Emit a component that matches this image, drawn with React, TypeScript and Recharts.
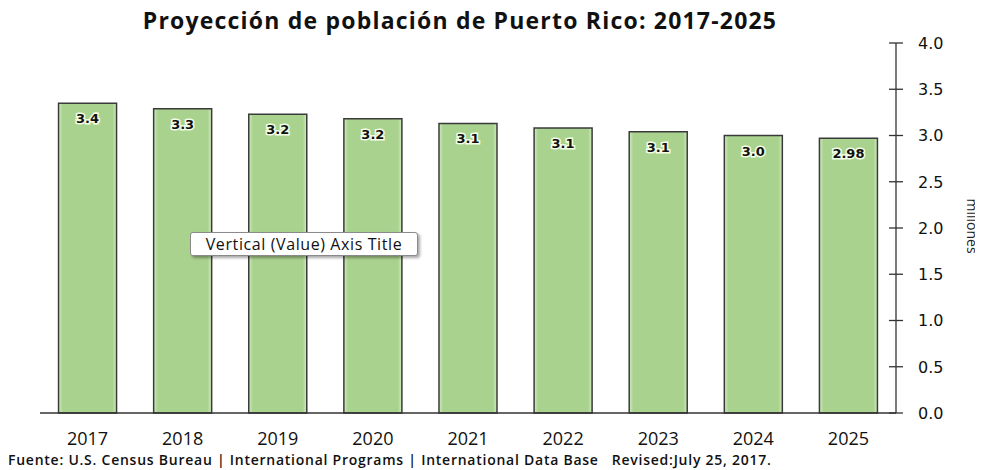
import React from "react";
import { BarChart, Bar, XAxis, YAxis, LabelList } from "recharts";

const years = ["2017", "2018", "2019", "2020", "2021", "2022", "2023", "2024", "2025"];
const population = [3.35, 3.29, 3.23, 3.18, 3.13, 3.08, 3.04, 3.0, 2.97];
const valueLabels = ["3.4", "3.3", "3.2", "3.2", "3.1", "3.1", "3.1", "3.0", "2.98"];
const yTicks = [0, 0.5, 1, 1.5, 2, 2.5, 3, 3.5, 4];

const data = years.map((year, i) => ({
  year,
  value: population[i],
  label: valueLabels[i]
}));

const XTick = (props: any) => {
  const { x, y, payload } = props;
  return (
    <text
      x={x}
      y={y + 32}
      textAnchor="middle"
      fontFamily="'Open Sans', sans-serif"
      fontSize={18}
      fill="#111"
    >
      {payload.value}
    </text>
  );
};

const YTick = (props: any) => {
  const { x, y, payload } = props;
  return (
    <g>
      <line x1={x - 7} x2={x + 7} y1={y} y2={y} stroke="#333" strokeWidth={1.3} />
      <text
        x={x + 22}
        y={y}
        dy="0.36em"
        textAnchor="start"
        fontFamily="'DejaVu Sans', sans-serif"
        fontSize={16}
        fill="#111"
      >
        {Number(payload.value).toFixed(1)}
      </text>
    </g>
  );
};

const BarValue = (props: any) => {
  const { x, y, width, value } = props;
  return (
    <text
      x={x + width / 2}
      y={y + 20}
      textAnchor="middle"
      fontFamily="'DejaVu Sans', sans-serif"
      fontWeight="bold"
      fontSize={13}
      fill="#111"
      stroke="#f2ffe6"
      strokeWidth={3}
      paintOrder="stroke"
    >
      {value}
    </text>
  );
};

export default function App() {
  return (
    <div
      style={{
        position: "relative",
        width: 983,
        height: 470,
        margin: "-8px 0 0 -8px",
        background: "#fff",
        overflow: "hidden"
      }}
    >
      <div
        style={{
          position: "absolute",
          top: 4,
          left: 0,
          width: 920,
          textAlign: "center",
          fontFamily: "'Open Sans', sans-serif",
          fontWeight: 700,
          fontSize: 23,
          letterSpacing: 1.2,
          color: "#111"
        }}
      >
        Proyección de población de Puerto Rico: 2017-2025
      </div>

      <BarChart
        width={983}
        height={470}
        data={data}
        margin={{ top: 43, right: 17, bottom: 27, left: 40 }}
        barCategoryGap="19.5%"
      >
        <defs>
          <linearGradient id="barFill" x1="0" y1="0" x2="1" y2="0">
            <stop offset="0%" stopColor="#d2ecc0" />
            <stop offset="7%" stopColor="#aad28f" />
            <stop offset="93%" stopColor="#aad28f" />
            <stop offset="100%" stopColor="#d2ecc0" />
          </linearGradient>
        </defs>
        <XAxis
          dataKey="year"
          axisLine={{ stroke: "#333", strokeWidth: 1.3 }}
          tickLine={false}
          tickSize={0}
          tickMargin={0}
          height={30}
          tick={<XTick />}
          interval={0}
        />
        <YAxis
          orientation="right"
          domain={[0, 4]}
          ticks={yTicks}
          width={70}
          axisLine={{ stroke: "#333", strokeWidth: 1.3 }}
          tickLine={false}
          tickSize={0}
          tickMargin={0}
          tick={<YTick />}
          interval={0}
          label={{
            content: (p: any) => {
              const vb = p.viewBox;
              const cx = vb.x + vb.width + 6;
              const cy = vb.y + vb.height / 2 - 2;
              return (
                <text
                  transform={`translate(${cx}, ${cy}) rotate(90)`}
                  textAnchor="middle"
                  dominantBaseline="central"
                  fontFamily="'Open Sans', sans-serif"
                  fontSize={14}
                  fill="#222"
                >
                  millones
                </text>
              );
            }
          }}
        />
        <Bar
          dataKey="value"
          fill="url(#barFill)"
          stroke="#3a3a3a"
          strokeWidth={1.5}
          isAnimationActive={false}
        >
          <LabelList dataKey="label" content={<BarValue />} />
        </Bar>
      </BarChart>

      <div
        style={{
          position: "absolute",
          left: 190,
          top: 232,
          width: 228,
          height: 24,
          boxSizing: "border-box",
          border: "1px solid #8a8a8a",
          borderRadius: 3,
          background: "#fff",
          boxShadow: "2px 2px 3px rgba(0,0,0,0.35)",
          fontFamily: "'Open Sans', sans-serif",
          fontSize: 16,
          letterSpacing: 0.6,
          lineHeight: "22px",
          textAlign: "center",
          color: "#111",
          whiteSpace: "nowrap"
        }}
      >
        Vertical (Value) Axis Title
      </div>

      <div
        style={{
          position: "absolute",
          left: 8,
          top: 450,
          fontFamily: "'Open Sans', sans-serif",
          fontWeight: 600,
          fontSize: 14,
          letterSpacing: 0.75,
          color: "#111",
          whiteSpace: "pre"
        }}
      >
        {"Fuente: U.S. Census Bureau | International Programs | International Data Base   Revised:July 25, 2017."}
      </div>
    </div>
  );
}
